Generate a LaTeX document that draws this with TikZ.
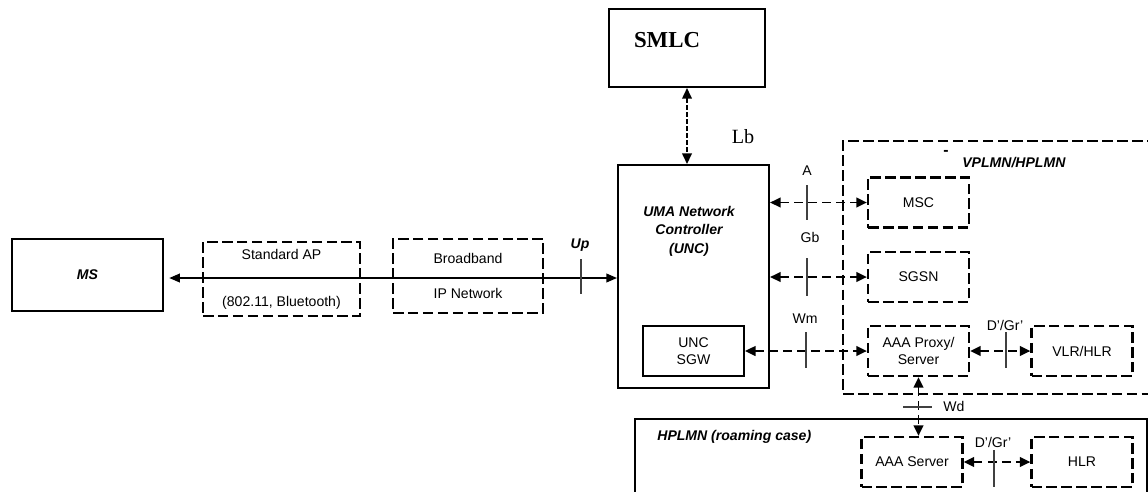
\documentclass[tikz,border=0pt]{standalone}
\usepackage{fontspec}
\setmainfont{Liberation Sans}
\newfontfamily\timesfont{Liberation Serif}
\usetikzlibrary{arrows.meta}

\begin{document}
\begin{tikzpicture}[x=0.02cm, y=-0.02cm,
    font=\fontsize{8}{9.6}\selectfont,
    solidbox/.style={draw, line width=1.2pt, inner sep=0pt, align=center},
    dashbox/.style={draw, line width=1.3pt, dash pattern=on 6pt off 2.5pt,
      inner sep=0pt, align=center},
    unit/.style={dashbox, minimum width=2.02cm, minimum height=1cm},
    iface/.style={{Triangle[length=6pt,width=5.5pt]}-{Triangle[length=6pt,width=5.5pt]},
      line width=1.1pt, dash pattern=on 5pt off 3pt},
    lbarrow/.style={{Triangle[length=6pt,width=5.5pt]}-{Triangle[length=6pt,width=5.5pt]},
      line width=.8pt, dash pattern=on 2.5pt off 1.5pt},
    flow/.style={{Triangle[length=6pt,width=5pt]}-{Triangle[length=6pt,width=5pt]},
      line width=.7pt},
    tick/.style={line width=.6pt, black!75},
    lbl/.style={inner sep=0pt},
    netname/.style={inner sep=0pt, font=\fontsize{8}{9.6}\selectfont\bfseries\itshape}
  ]
  \useasboundingbox (0,0) rectangle (1148,491);
  \clip (0,0) rectangle (1148,491);

  \node[solidbox, minimum width=3.02cm, minimum height=1.44cm,
    font=\fontsize{8}{9.6}\selectfont\bfseries\itshape] (ms) at (87.5,275) {MS};
  \node[dashbox, minimum width=3.14cm, minimum height=1.48cm] (ap) at (281.5,279)
    {Standard AP\\[17pt](802.11, Bluetooth)};
  \node[dashbox, minimum width=3.0cm, minimum height=1.48cm] (bb) at (468,276)
    {Broadband\\[10.5pt]IP Network};

  \node[solidbox, minimum width=3.02cm, minimum height=4.46cm] (unc) at (693.5,276.5) {};
  \node[netname, align=center, font=\fontsize{8}{10.5}\selectfont\bfseries\itshape]
    (unclbl) at (689,231) {UMA Network\\Controller\\(UNC)};
  \node[solidbox, line width=1.1pt, minimum width=2.02cm, minimum height=1cm]
    (sgw) at (693.5,351) {UNC\\SGW};

  \node[solidbox, minimum width=3.12cm, minimum height=1.56cm] (smlc) at (687,48) {};
  \node[lbl, font=\timesfont\bfseries\fontsize{13}{15}\selectfont] (smlclbl) at (667,40) {SMLC};
  \node[lbl, font=\timesfont\fontsize{11.5}{13}\selectfont] (lb) at (743,137) {Lb};

  \node[dashbox, minimum width=6.44cm, minimum height=5.06cm] (vplmn) at (1004,267.5) {};
  \node[netname, anchor=west] (vplmnlbl) at (962,163) {VPLMN/HPLMN};
  \node[lbl, font=\fontsize{9}{10}\selectfont\bfseries] (stray) at (946,153) {-};
  \node[unit] (msc) at (918.5,202.5) {MSC};
  \node[unit] (sgsn) at (918.5,277) {SGSN};
  \node[unit] (aaap) at (918.5,351) {AAA Proxy/\\Server};
  \node[unit] (vlr) at (1082,351) {VLR/HLR};

  \node[solidbox, minimum width=10.24cm, minimum height=2.22cm] (hplmn) at (891,474.5) {};
  \node[netname, anchor=west] (hplmnlbl) at (657,437) {HPLMN (roaming case)};
  \node[unit] (aaas) at (912,462) {AAA Server};
  \node[unit] (hlr) at (1082,462) {HLR};

  \draw[flow, shorten >=3pt] (unc.west |- 0,278) -- (ms.east |- 0,278);
  \draw[lbarrow] (smlc.south) -- (smlc.south |- unc.north);
  \draw[iface] (unc.east |- msc.west) -- (msc.west);
  \draw[iface] (unc.east |- sgsn.west) -- (sgsn.west);
  \draw[iface] (sgw.east) -- (aaap.west);
  \draw[iface] (aaap.east) -- (vlr.west);
  \draw[iface] (aaap.south) -- (aaap.south |- aaas.north);
  \draw[iface] (aaas.east) -- (hlr.west);

  \node[netname] (uplbl) at (580,245) {Up};
  \draw[tick] (581,259) -- (581,294);
  \node[lbl] (albl) at (807,171) {A};
  \draw[tick] (807,185) -- (807,220);
  \node[lbl] (gblbl) at (810,237) {Gb};
  \draw[tick] (807,258) -- (807,296);
  \node[lbl] (wmlbl) at (805,319) {Wm};
  \draw[tick] (806,332) -- (806,368);
  \node[lbl] (dgrtop) at (1005,325) {D'/Gr'};
  \draw[tick] (1006,332) -- (1006,368);
  \node[lbl] (wdlbl) at (954,406) {Wd};
  \draw[tick] (903,407) -- (932,407);
  \node[lbl] (dgrbot) at (993,442) {D'/Gr'};
  \draw[tick] (994,450) -- (994,487);
\end{tikzpicture}
\end{document}
